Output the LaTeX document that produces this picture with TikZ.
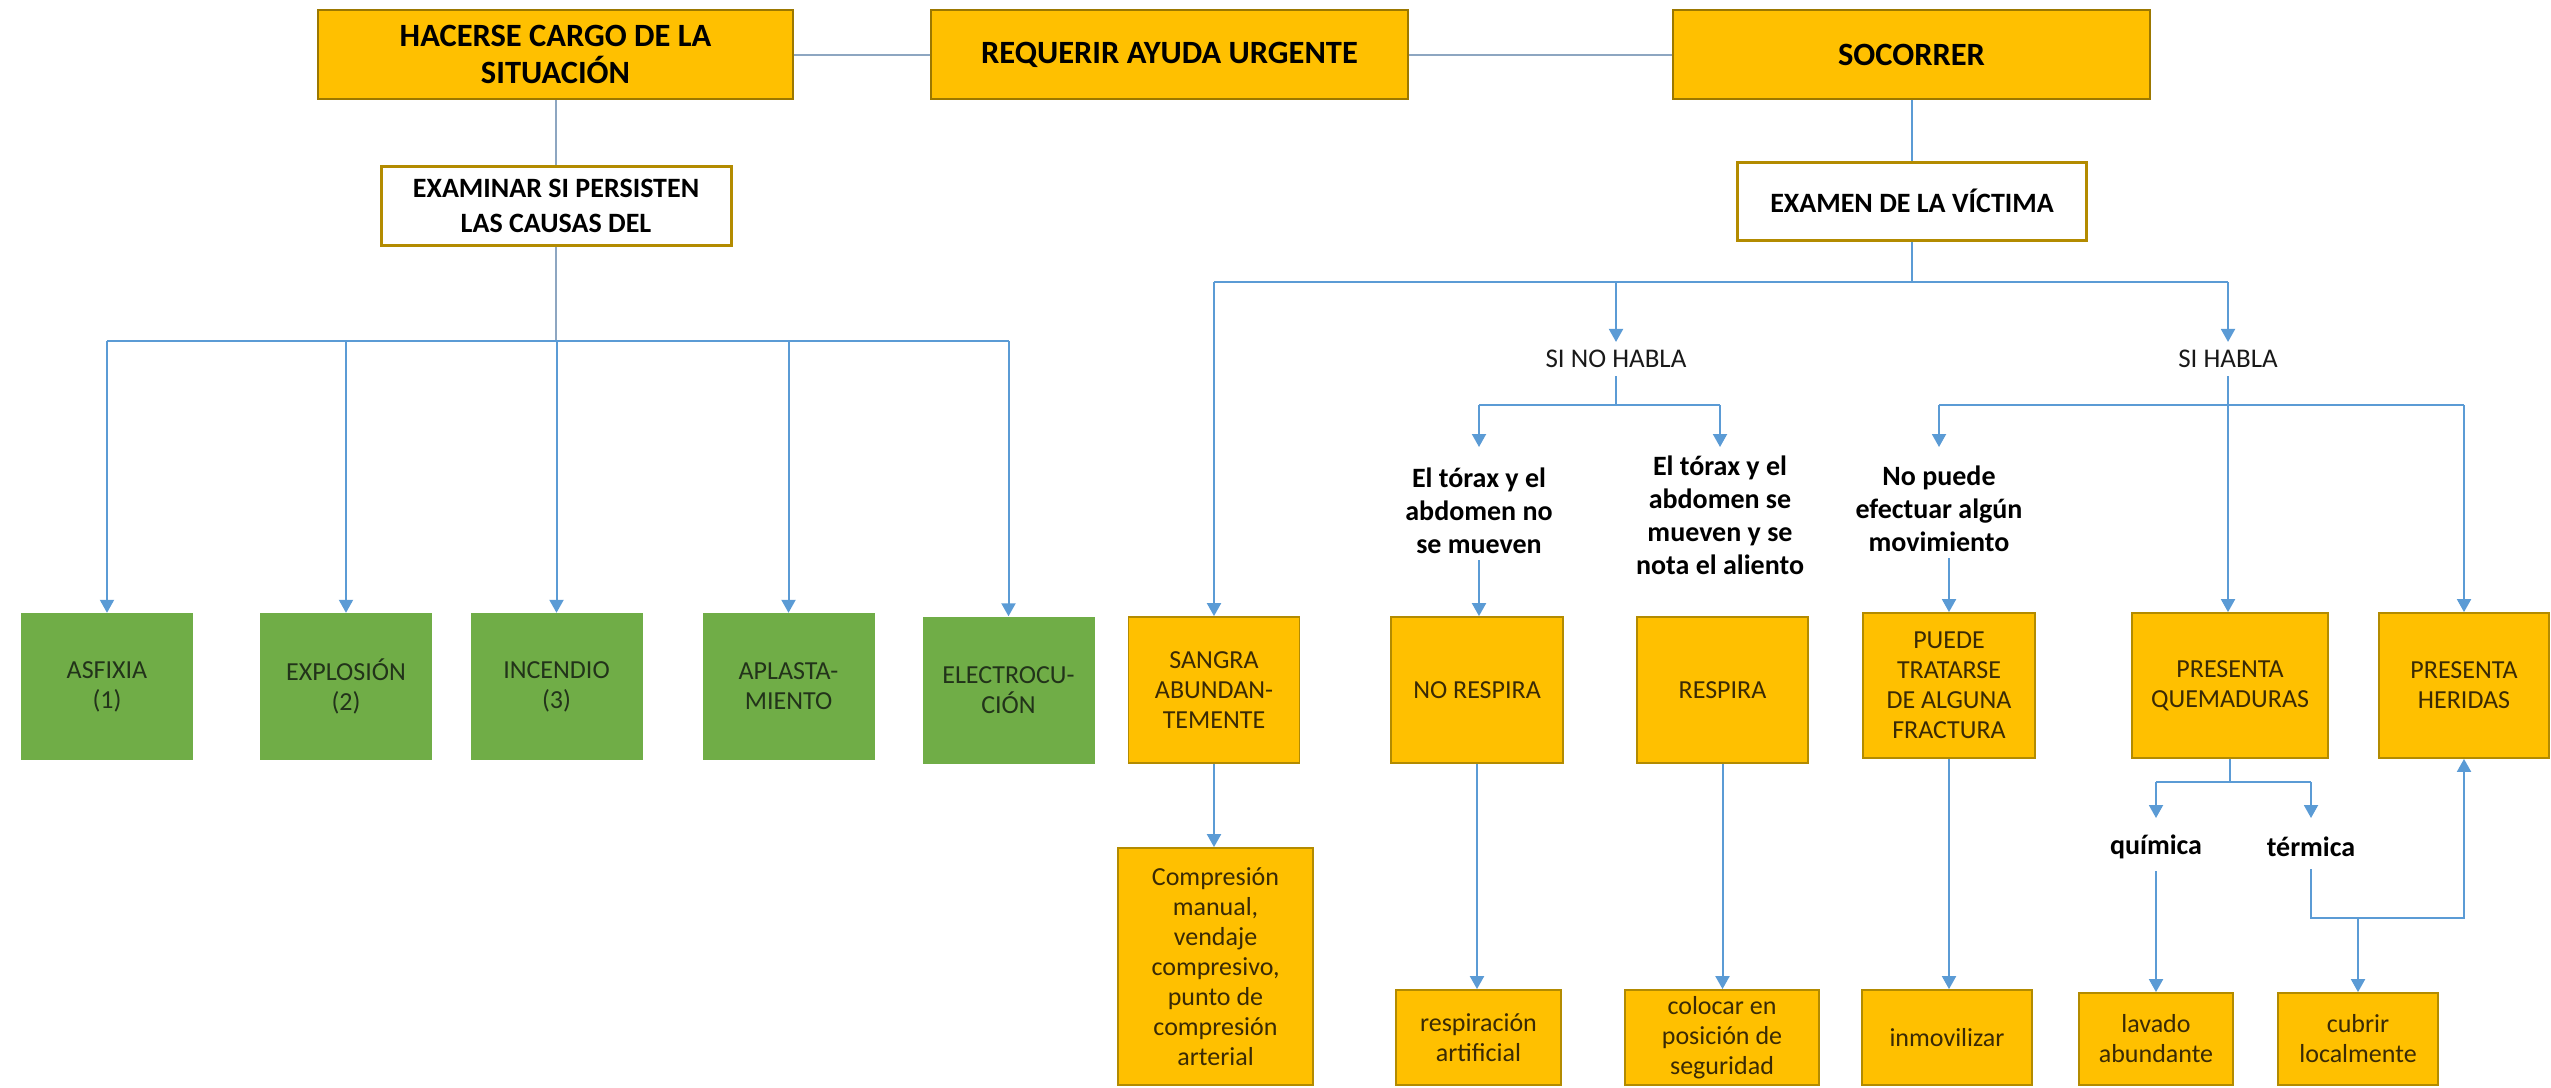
\documentclass[tikz,border=0pt]{standalone}
\usepackage{fontspec}
\setmainfont{Carlito}
\usetikzlibrary{arrows.meta}

\definecolor{amber}{HTML}{FFC000}
\definecolor{amberline}{HTML}{B38B00}
\definecolor{amberdark}{HTML}{9C7800}
\definecolor{leaf}{HTML}{70AD47}
\definecolor{wire}{HTML}{5B9BD5}
\definecolor{wiregray}{HTML}{8DA6C1}
\definecolor{inkbrown}{HTML}{3A2A05}
\definecolor{inkgreen}{HTML}{22331A}

\newcommand\fsz[2]{\fontsize{#1}{#2}\selectfont}

\begin{document}
\begin{tikzpicture}[x=1pt,y=-1pt,
  topbox/.style={draw=amberdark,line width=2.5pt,fill=amber,minimum height=89pt,
    align=center,inner sep=0pt,font=\bfseries\fsz{32.5}{37},text=black},
  checkbox/.style={draw=amberline,line width=3pt,fill=white,align=center,
    inner sep=0pt,font=\bfseries\fsz{28}{35},text=black},
  cause/.style={fill=leaf,minimum width=172pt,minimum height=147pt,align=center,
    inner sep=0pt,font=\fsz{26}{30},text=inkgreen},
  state/.style={draw=amberline,line width=1.8pt,fill=amber,minimum width=172pt,
    minimum height=146pt,align=center,inner sep=0pt,font=\fsz{26}{30},text=inkbrown},
  act/.style={draw=amberline,line width=1.8pt,fill=amber,align=center,
    inner sep=0pt,font=\fsz{26}{30},text=inkbrown},
  cond/.style={align=center,inner xsep=0pt,inner ysep=8pt,font=\fsz{27}{32},text=black!90},
  cue/.style={align=center,inner xsep=0pt,inner ysep=6pt,font=\bfseries\fsz{28}{33},text=black},
  link/.style={draw=wiregray,line width=2pt},
  wire/.style={draw=wire,line width=2pt},
  arrow/.style={wire,-{Triangle[length=13pt,width=14pt]}}
]
\useasboundingbox (0,0) rectangle (2551,1087);

% rows of the branching lines
\coordinate (rowA) at (0,282);
\coordinate (rowB) at (0,341);
\coordinate (rowC) at (0,405);
\coordinate (tipC) at (0,447);
\coordinate (rowD) at (0,782);
\coordinate (tipD) at (0,818);
\coordinate (rowE) at (0,918);

% main steps
\node[topbox,minimum width=475pt] (hacer) at (555.5,54.5) {HACERSE CARGO DE LA\\SITUACIÓN};
\node[topbox,minimum width=477pt] (requerir) at (1169.5,54.5) {REQUERIR AYUDA URGENTE};
\node[topbox,minimum width=477pt] (socorrer) at (1911.5,54.5) {SOCORRER};

\node[checkbox,minimum width=350pt,minimum height=79pt] (examinar) at (556,205.5) {EXAMINAR SI PERSISTEN\\LAS CAUSAS DEL};
\node[checkbox,minimum width=349pt,minimum height=78pt] (examen) at (1912,201) {EXAMEN DE LA VÍCTIMA};

% causes
\node[cause] (asfixia) at (107,686.5) {ASFIXIA\\(1)};
\node[cause] (explosion) at (346,686.5) {EXPLOSIÓN\\(2)};
\node[cause] (incendio) at (556.5,686.5) {INCENDIO\\(3)};
\node[cause] (aplasta) at (788.5,686.5) {APLASTA-\\MIENTO};
\node[cause] (electro) at (1008.5,690) {ELECTROCU-\\CIÓN};

% state of the victim
\node[state,minimum width=171pt] (sangra) at (1214,690) {SANGRA\\ABUNDAN-\\TEMENTE};
\node[state] (norespira) at (1477,690) {NO RESPIRA};
\node[state,minimum width=171pt] (respira) at (1722.5,690) {RESPIRA};
\node[state,minimum height=145pt] (puede) at (1949,685.5) {PUEDE\\TRATARSE\\DE ALGUNA\\FRACTURA};
\node[state,minimum width=196pt,minimum height=145pt] (quem) at (2230,685.5) {PRESENTA\\QUEMADURAS};
\node[state,minimum width=170pt,minimum height=145pt] (heridas) at (2464,685.5) {PRESENTA\\HERIDAS};

% actions
\node[act,minimum width=195pt,minimum height=237pt] (compresion) at (1215.5,966.5) {Compresión\\manual,\\vendaje\\compresivo,\\punto de\\compresión\\arterial};
\node[act,minimum width=165pt,minimum height=95pt] (respart) at (1478.5,1037.5) {respiración\\artificial};
\node[act,minimum width=194pt,minimum height=95pt] (colocar) at (1722,1037.5) {colocar en\\posición de\\seguridad};
\node[act,minimum width=170pt,minimum height=95pt] (inmov) at (1947,1037.5) {inmovilizar};
\node[act,minimum width=154pt,minimum height=92pt] (lavado) at (2156,1039) {lavado\\abundante};
\node[act,minimum width=160pt,minimum height=92pt] (cubrir) at (2358,1039) {cubrir\\localmente};

% conditions and cues
\node[cond] (sinohabla) at (1616,359) {SI NO HABLA};
\node[cond] (sihabla) at (2228,359) {SI HABLA};
\node[cue] (lab1) at (1479,511) {El tórax y el\\abdomen no\\se mueven};
\node[cue] (lab2) at (1720,515) {El tórax y el\\abdomen se\\mueven y se\\nota el aliento};
\node[cue] (lab3) at (1939,509) {No puede\\efectuar algún\\movimiento};
\node[cue,inner ysep=12pt] (quimica) at (2156,847) {química};
\node[cue,inner ysep=12pt] (termica) at (2311,847) {térmica};

% top row links
\draw[link] (hacer) -- (requerir);
\draw[link] (requerir) -- (socorrer);
\draw[link] (hacer.south) -- (hacer.south |- examinar.north);

% causes branch
\draw[link] (examinar.south) -- (examinar.south |- rowB);
\draw[wire] (asfixia.north |- rowB) -- (electro.north |- rowB);
\foreach \n in {asfixia,explosion,incendio,aplasta,electro}
  \draw[arrow] (\n.north |- rowB) -- (\n.north);

% victim branch
\draw[wire] (socorrer.south) -- (socorrer.south |- examen.north);
\draw[wire] (examen.south) -- (examen.south |- rowA);
\draw[wire] (sangra.north |- rowA) -- (sihabla.north |- rowA);
\draw[arrow] (sangra.north |- rowA) -- (sangra.north);
\draw[arrow] (sinohabla.north |- rowA) -- (sinohabla.north);
\draw[arrow] (sihabla.north |- rowA) -- (sihabla.north);

% not speaking
\draw[wire] (sinohabla.south) -- (sinohabla.south |- rowC);
\draw[wire] (lab1.north |- rowC) -- (lab2.north |- rowC);
\draw[arrow] (lab1.north |- rowC) -- (lab1.north |- tipC);
\draw[arrow] (lab2.north |- rowC) -- (lab2.north |- tipC);
\draw[arrow] (lab1.south) -- (lab1.south |- norespira.north);

% speaking
\draw[arrow] (sihabla.south) -- (sihabla.south |- quem.north);
\draw[wire] (lab3.north |- rowC) -- (heridas.north |- rowC);
\draw[arrow] (lab3.north |- rowC) -- (lab3.north |- tipC);
\draw[arrow] (heridas.north |- rowC) -- (heridas.north);
\draw[arrow] (puede.north |- lab3.south) -- (puede.north);

% actions
\draw[arrow] (sangra.south) -- (sangra.south |- compresion.north);
\draw[arrow] (norespira.south) -- (norespira.south |- respart.north);
\draw[arrow] (respira.south) -- (respira.south |- colocar.north);
\draw[arrow] (puede.south) -- (puede.south |- inmov.north);

% burns
\draw[wire] (quem.south) -- (quem.south |- rowD);
\draw[wire] (quimica.north |- rowD) -- (termica.north |- rowD);
\draw[arrow] (quimica.north |- rowD) -- (quimica.north |- tipD);
\draw[arrow] (termica.north |- rowD) -- (termica.north |- tipD);
\draw[arrow] (quimica.south) -- (quimica.south |- lavado.north);
\draw[arrow] (termica.south) -- (termica.south |- rowE) -- (heridas.south |- rowE) -- (heridas.south);
\draw[arrow] (cubrir.north |- rowE) -- (cubrir.north);
\end{tikzpicture}
\end{document}
